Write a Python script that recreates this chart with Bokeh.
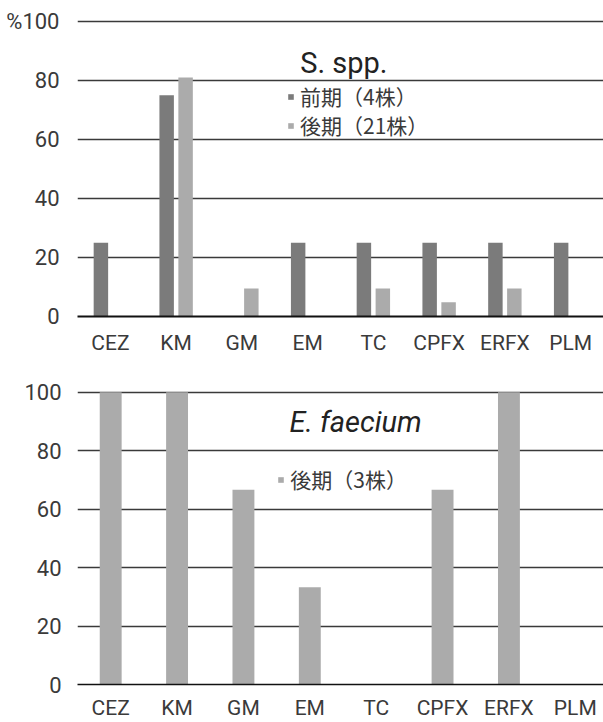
from bokeh.plotting import figure
from bokeh.models import (FactorRange, Range1d, Legend, LegendItem, Label,
                          FixedTicker, ColumnDataSource)
from bokeh.transform import dodge
from bokeh.layouts import column
from bokeh.embed import file_html
from bokeh.resources import INLINE

# ---- data ----
categories = ["CEZ", "KM", "GM", "EM", "TC", "CPFX", "ERFX", "PLM"]
s_early = [25, 75, 0, 25, 25, 25, 25, 25]        # 前期（4株）
s_late = [0, 81, 9.5, 0, 9.5, 4.8, 9.5, 0]        # 後期（21株）
e_late = [100, 100, 66.7, 33.3, 0, 66.7, 100, 0]  # 後期（3株）
y_ticks = [0, 20, 40, 60, 80, 100]
top_title = "S. spp."
bottom_title = "E. faecium"
s_labels = ["前期（4株）", "後期（21株）"]
e_labels = ["後期（3株）"]

LAT = "Roboto"
CJK = "Noto Sans CJK JP"
TXT = "#3a3a3a"
DARK = "#7b7b7b"
LIGHT = "#ababab"


def style(p, zero_width, first_label):
    p.outline_line_color = None
    p.background_fill_color = "white"
    p.border_fill_color = "white"
    p.xgrid.grid_line_color = None
    p.ygrid.ticker = FixedTicker(ticks=y_ticks[1:])
    p.ygrid.grid_line_color = "#3a3a3a"
    p.ygrid.grid_line_width = 1.3
    p.yaxis.ticker = FixedTicker(ticks=y_ticks)
    p.yaxis.axis_line_color = None
    p.yaxis.major_tick_line_color = None
    p.yaxis.minor_tick_line_color = None
    p.yaxis.major_label_standoff = 12
    p.yaxis.major_label_text_font = LAT
    p.yaxis.major_label_text_font_size = "22px"
    p.yaxis.major_label_text_color = TXT
    if first_label:
        p.yaxis.major_label_overrides = {100: first_label}
    p.xaxis.axis_line_color = "#111111"
    p.xaxis.axis_line_width = zero_width
    p.xaxis.major_tick_line_color = None
    p.xaxis.minor_tick_line_color = None
    p.xaxis.major_label_standoff = 8
    p.xaxis.major_label_text_font = LAT
    p.xaxis.major_label_text_font_size = "21px"
    p.xaxis.major_label_text_color = TXT


def legend(item, loc):
    return Legend(items=[item], location=loc, padding=0, margin=0,
                  border_line_color=None, background_fill_alpha=0,
                  glyph_width=7, glyph_height=7, label_standoff=6,
                  label_height=22, spacing=0,
                  label_text_font=CJK, label_text_font_size="21px",
                  label_text_color=TXT)


# ---- top chart: S. spp. ----
src1 = ColumnDataSource(dict(cat=categories, early=s_early, late=s_late))
p1 = figure(x_range=FactorRange(*categories), y_range=Range1d(0, 102),
            frame_width=526, frame_height=301,
            min_border_left=77, min_border_right=0, min_border_top=15,
            min_border_bottom=49, output_backend="svg", toolbar_location=None)
r1 = p1.vbar(x=dodge("cat", -0.144, range=p1.x_range), top="early", width=0.22,
             source=src1, fill_color=DARK, line_color=None)
r2 = p1.vbar(x=dodge("cat", 0.144, range=p1.x_range), top="late", width=0.22,
             source=src1, fill_color=LIGHT, line_color=None)
style(p1, 2.2, "%100")

p1.add_layout(legend(LegendItem(label=s_labels[0], renderers=[r1]), (210, 205)))
p1.add_layout(legend(LegendItem(label=s_labels[1], renderers=[r2]), (210, 176)))
p1.add_layout(Label(x=4.05, y=86.0, text=top_title, text_align="center",
                    text_baseline="alphabetic", text_font=LAT,
                    text_font_size="29px", text_color="#222222"))

# ---- bottom chart: E. faecium ----
src2 = ColumnDataSource(dict(cat=categories, late=e_late))
p2 = figure(x_range=FactorRange(*categories), y_range=Range1d(0, 102),
            frame_width=531, frame_height=298,
            min_border_left=72, min_border_right=0, min_border_top=21,
            min_border_bottom=38, output_backend="svg", toolbar_location=None)
r3 = p2.vbar(x="cat", top="late", width=0.33, source=src2,
             fill_color=LIGHT, line_color=None)
style(p2, 1.5, None)
p2.yaxis.major_label_standoff = 10
p2.xaxis.major_label_standoff = 5

p2.add_layout(legend(LegendItem(label=e_labels[0], renderers=[r3]), (216, 190)))
p2.add_layout(Label(x=4.19, y=90.0, text=bottom_title, text_align="center",
                    text_baseline="alphabetic", text_font=LAT,
                    text_font_style="italic",
                    text_font_size="29px", text_color="#222222"))

layout = column(p1, p2)
open("out.html", "w").write(file_html(layout, INLINE))
